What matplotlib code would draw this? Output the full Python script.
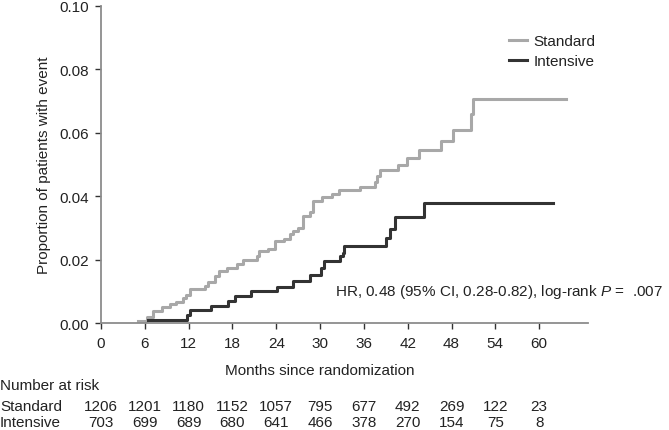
import numpy as np
import matplotlib
matplotlib.use("Agg")
import matplotlib.pyplot as plt
from matplotlib.transforms import blended_transform_factory

plt.rcParams['font.family'] = ['Liberation Sans', 'DejaVu Sans']
plt.rcParams['mathtext.fontset'] = 'custom'
plt.rcParams['mathtext.it'] = 'Liberation Sans:italic'

# step curves (months, cumulative proportion)
std_t = [5.0, 6.3, 7.1, 8.3, 9.5, 10.3, 11.2, 11.7, 12.2, 14.2, 14.7, 15.6, 16.1,
         17.2, 18.6, 19.5, 21.3, 21.6, 22.9, 23.8, 25.0, 25.9, 26.3, 27.0, 27.7,
         28.6, 29.0, 30.2, 31.6, 32.6, 35.5, 37.5, 37.8, 38.2, 40.7, 41.9, 43.6,
         46.6, 48.2, 50.7, 50.9, 63.7]
std_p = [0.0007, 0.0018, 0.0039, 0.0051, 0.0060, 0.0067, 0.0078, 0.0088, 0.0107,
         0.0116, 0.0130, 0.0149, 0.0165, 0.0175, 0.0186, 0.0199, 0.0210, 0.0228,
         0.0235, 0.0259, 0.0265, 0.0280, 0.0290, 0.0301, 0.0338, 0.0349, 0.0385,
         0.0396, 0.0406, 0.0420, 0.0430, 0.0445, 0.0464, 0.0483, 0.0500, 0.0520,
         0.0545, 0.0574, 0.0609, 0.0658, 0.0708, 0.0708]

int_t = [6.5, 11.8, 12.2, 15.0, 17.4, 18.4, 20.5, 24.1, 26.3, 28.6, 30.1, 30.5,
         32.7, 33.1, 33.3, 39.0, 39.6, 40.2, 44.2, 61.9]
int_p = [0.0010, 0.0025, 0.0040, 0.0055, 0.0069, 0.0084, 0.0100, 0.0115, 0.0132,
         0.0151, 0.0175, 0.0196, 0.0210, 0.0222, 0.0243, 0.0268, 0.0298, 0.0333,
         0.0378, 0.0378]

risk_times = [0, 6, 12, 18, 24, 30, 36, 42, 48, 54, 60]
risk_std = [1206, 1201, 1180, 1152, 1057, 795, 677, 492, 269, 122, 23]
risk_int = [703, 699, 689, 680, 641, 466, 378, 270, 154, 75, 8]

gray = "#a8a8a8"
dark = "#333333"
txt = "#222222"
fs = 11

fig = plt.figure(figsize=(6.69, 4.31), dpi=100)
ax = fig.add_axes([0.151, 0.248, 0.728, 0.736])

ax.step(std_t, std_p, where="post", color=gray, lw=2.2, label="Standard")
ax.step(int_t, int_p, where="post", color=dark, lw=2.2, label="Intensive")

ax.set_xlim(0, 66.7)
ax.set_ylim(0, 0.10)
ax.set_xticks(risk_times)
ax.set_yticks([0, 0.02, 0.04, 0.06, 0.08, 0.10])
ax.set_yticklabels(["0.00", "0.02", "0.04", "0.06", "0.08", "0.10"])

for s in ["top", "right"]:
    ax.spines[s].set_visible(False)
for s in ["left", "bottom"]:
    ax.spines[s].set_color("#8c8c8c")
    ax.spines[s].set_linewidth(1.3)
ax.tick_params(length=4, width=1, color="#333333", labelsize=fs,
               labelcolor=txt, pad=5)

ax.set_xlabel("Months since randomization", fontsize=fs, color=txt)
ax.xaxis.set_label_coords(30 / 66.7, -0.125)
ax.set_ylabel("Proportion of patients with event", fontsize=fs, color=txt,
              labelpad=6)

leg = ax.legend(loc="upper left", bbox_to_anchor=(0.825, 0.93), frameon=False,
                fontsize=fs, handlelength=1.2, handletextpad=0.4,
                labelspacing=0.38, borderaxespad=0)
for t in leg.get_texts():
    t.set_color(txt)

ax.text(32.0, 0.0101, "HR, 0.48 (95% CI, 0.28-0.82), log-rank $P$ =  .007",
        fontsize=fs, color=txt, ha="left", va="center")

# number at risk table
tr = blended_transform_factory(ax.transData, fig.transFigure)
fig.text(0.0, 0.104, "Number at risk", fontsize=fs, color=txt, va="center")
fig.text(0.0, 0.056, "Standard", fontsize=fs, color=txt, va="center")
fig.text(0.0, 0.019, "Intensive", fontsize=fs, color=txt, va="center")
for x, a, b in zip(risk_times, risk_std, risk_int):
    ax.text(x, 0.056, str(a), transform=tr, ha="center", va="center",
            fontsize=fs, color=txt, clip_on=False)
    ax.text(x, 0.019, str(b), transform=tr, ha="center", va="center",
            fontsize=fs, color=txt, clip_on=False)

fig.savefig("out.png", dpi=100)
